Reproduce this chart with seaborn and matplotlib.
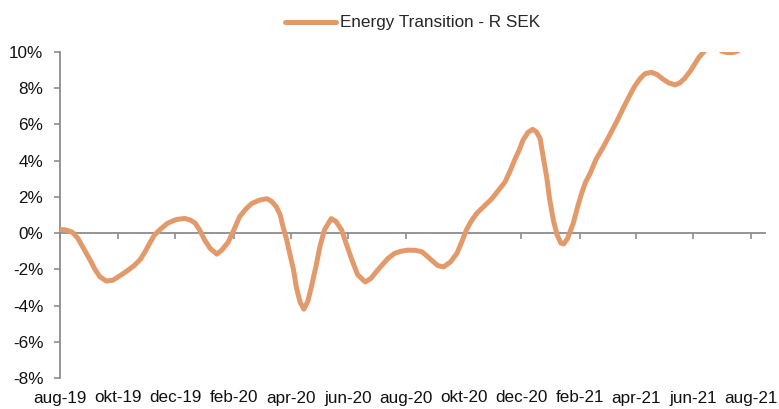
import matplotlib
matplotlib.use("Agg")
import matplotlib.pyplot as plt
import seaborn as sns
import pandas as pd

# ---- data ----
start_date = "2019-08-01"
# observation day (days after start_date)
obs_days = [
    0, 6, 13, 19, 26, 32, 37, 42, 49, 56, 65, 72, 79, 85, 90, 95, 100, 107, 114, 123,
    132, 138, 143, 148, 153, 159, 166, 171, 178, 185, 190, 197, 203, 211, 219, 224, 229,
    233, 236, 240, 243, 247, 250, 254, 258, 262, 266, 271, 275, 280, 287, 292, 298, 303,
    309, 315, 323, 329, 336, 342, 347, 354, 361, 368, 376, 383, 389, 395, 400, 406, 413,
    420, 425, 430, 435, 441, 449, 457, 463, 471, 476, 481, 486, 490, 495, 500, 504, 508,
    511, 515, 518, 522, 526, 530, 533, 537, 543, 548, 552, 556, 561, 567, 575, 582, 589,
    596, 603, 608, 614, 619, 626, 632, 638, 644, 651, 656, 661, 667, 672, 676, 681, 686,
    691, 696, 700, 705, 709, 713, 717, 725, 732,
]
returns = [
    0.20, 0.18, 0.05, -0.30, -0.95, -1.50, -2.00, -2.40, -2.65, -2.60, -2.30, -2.05,
    -1.77, -1.45, -1.03, -0.55, -0.10, 0.25, 0.55, 0.75,
    0.81, 0.72, 0.55, 0.15, -0.38, -0.85, -1.16, -0.95, -0.50, 0.30, 0.90, 1.35, 1.64,
    1.82, 1.90, 1.75, 1.45,
    1.00, 0.35, -0.40, -1.10, -2.00, -2.97, -3.80, -4.20, -3.80, -2.97, -1.80, -0.75,
    0.20, 0.80, 0.65, 0.17, -0.60,
    -1.50, -2.30, -2.70, -2.50, -2.05, -1.70, -1.40, -1.12, -1.00, -0.94, -0.95, -1.03,
    -1.30, -1.58, -1.80, -1.86, -1.60,
    -1.12, -0.50, 0.17, 0.65, 1.09, 1.50, 1.90, 2.30, 2.83, 3.40, 4.03, 4.60, 5.14,
    5.55, 5.73, 5.60, 5.23,
    4.30, 3.10, 1.90, 0.72, -0.10, -0.55, -0.60, -0.30, 0.53, 1.50, 2.20, 2.80, 3.30,
    4.05, 4.77, 5.45, 6.15,
    6.90, 7.62, 8.10, 8.54, 8.80, 8.88, 8.75, 8.50, 8.30, 8.18, 8.30, 8.54, 8.95, 9.37,
    9.70, 10.00, 10.30,
    10.40, 10.25, 10.05, 9.98, 9.96, 9.98, 10.05, 10.30, 10.50,
]
series_name = "Energy Transition - R SEK"

tick_dates = ["2019-08-01", "2019-10-01", "2019-12-01", "2020-02-01", "2020-04-01",
              "2020-06-01", "2020-08-01", "2020-10-01", "2020-12-01", "2021-02-01",
              "2021-04-01", "2021-06-01", "2021-08-01"]
tick_labels = ["aug-19", "okt-19", "dec-19", "feb-20", "apr-20", "jun-20", "aug-20",
               "okt-20", "dec-20", "feb-21", "apr-21", "jun-21", "aug-21"]
y_ticks = [-8, -6, -4, -2, 0, 2, 4, 6, 8, 10]
y_labels = ["-8%", "-6%", "-4%", "-2%", "0%", "2%", "4%", "6%", "8%", "10%"]

# ---- styling ----
sns.set_theme(style="white")
plt.rcParams["font.family"] = ["Liberation Sans", "DejaVu Sans"]
plt.rcParams["axes.unicode_minus"] = False

line_color = "#E39A6B"
axis_color = "#8C8C8C"

dates = pd.Timestamp(start_date) + pd.to_timedelta(obs_days, unit="D")
df = pd.DataFrame({"date": dates, "value": returns, "series": series_name})

fig = plt.figure(figsize=(7.79, 4.09), dpi=100)
ax = fig.add_axes([60 / 779, 1 - 378 / 409, (765 - 60) / 779, (378 - 52) / 409])

sns.lineplot(data=df, x="date", y="value", hue="series", palette=[line_color],
             linewidth=3.6, ax=ax, zorder=3, legend=True)
for ln in ax.get_lines():
    ln.set_solid_capstyle("round")
    ln.set_solid_joinstyle("round")
    ln.set_antialiased(True)

ax.set_xlim(pd.Timestamp("2019-08-01"), pd.Timestamp("2021-08-16"))
ax.set_ylim(-8, 10)

# y axis
ax.set_yticks(y_ticks)
ax.set_yticklabels(y_labels, fontsize=12.3, color="#111111")
ax.tick_params(axis="y", direction="out", length=4, width=1.2, color=axis_color, pad=8,
               left=True)

# x axis line at zero, labels at bottom
for s in ["top", "right"]:
    ax.spines[s].set_visible(False)
ax.spines["left"].set_color(axis_color)
ax.spines["left"].set_linewidth(1.3)
ax.spines["bottom"].set_position(("data", 0))
ax.spines["bottom"].set_color(axis_color)
ax.spines["bottom"].set_linewidth(1.3)
ax.set_xticks(pd.to_datetime(tick_dates))
ax.tick_params(axis="x", direction="out", length=4, width=1.2, color=axis_color,
               labelbottom=False, bottom=True)

sec = ax.secondary_xaxis(0.0)
sec.set_xticks(pd.to_datetime(tick_dates))
sec.set_xticklabels(tick_labels, fontsize=12.3, color="#111111")
sec.tick_params(axis="x", length=0, pad=9)
sec.spines["bottom"].set_visible(False)

ax.set_xlabel("")
ax.set_ylabel("")
ax.grid(False)

leg = ax.legend(loc="center", bbox_to_anchor=(0.5, 1 + 29 / 326), frameon=False,
                fontsize=12.3, handlelength=3.0, handletextpad=0.25)
for h in leg.get_lines():
    h.set_linewidth(3.6)

fig.savefig("out.png", dpi=100)
